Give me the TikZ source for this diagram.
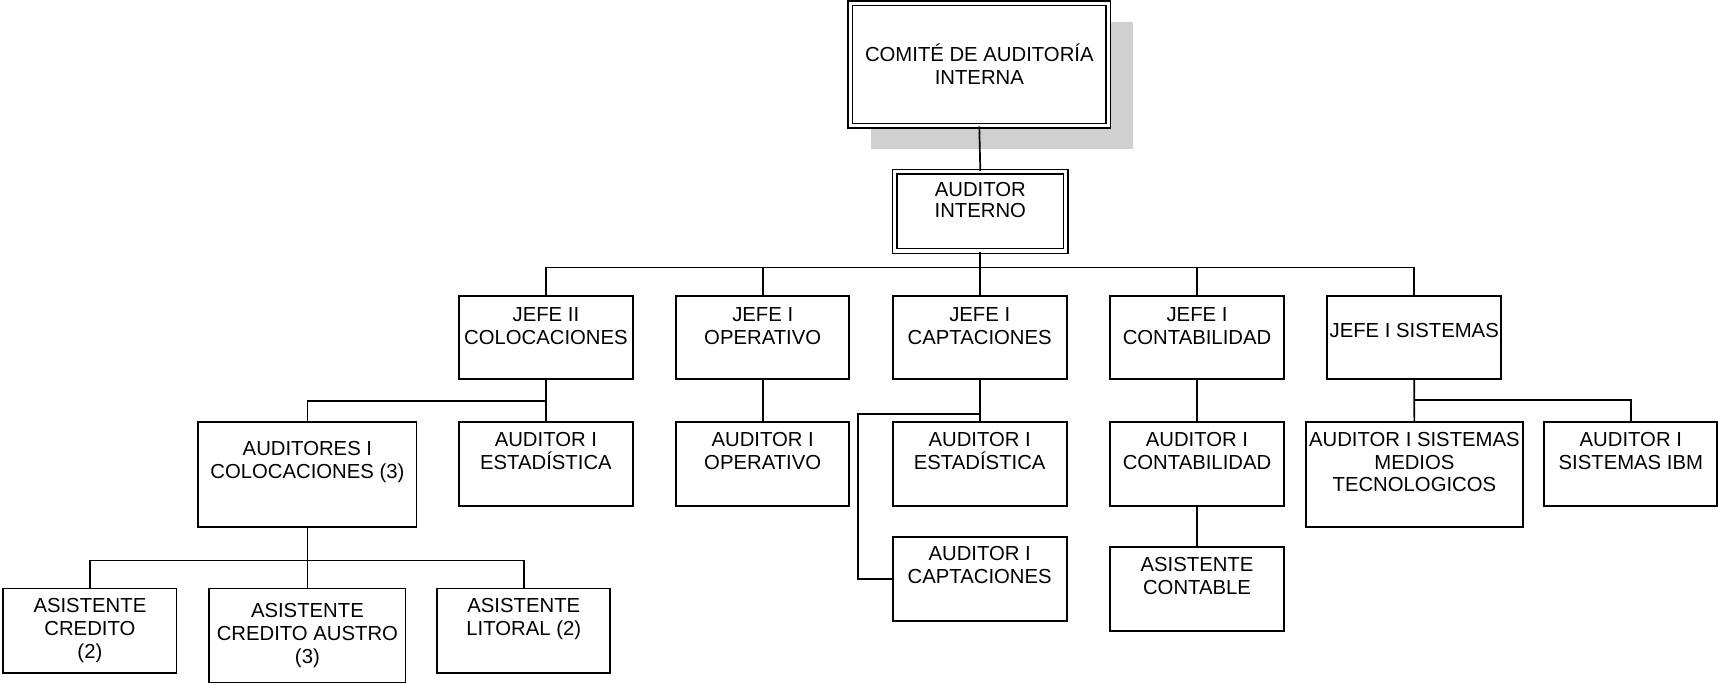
\documentclass[tikz,border=0pt]{standalone}
\usepackage{fontspec}
\setmainfont{Liberation Sans}
\usetikzlibrary{fit}
\definecolor{shadowgray}{RGB}{208,208,208}
\tikzset{
  box/.style={draw, line width=0.85pt, fill=white, inner sep=0pt},
  dbox/.style={draw, line width=0.7pt, double, double distance=1.6pt, fill=white, inner sep=0pt},
  lbl/.style={anchor=north, inner sep=0pt, align=center, yshift=4.2pt,
    font=\fontsize{10.15}{11.5}\selectfont, execute at begin node={\rule{0pt}{10pt}}},
  link/.style={line width=0.85pt},
}
\begin{document}
\begin{tikzpicture}[x=0.5pt, y=-0.5pt]
\useasboundingbox (0,0) rectangle (1718,684);

% shadow behind the committee box
\fill[shadowgray] (870.7,21.7) rectangle (1133.3,149.3);

% top of the hierarchy
\node[dbox, fit={(850.2,3.4) (1108.4,125.8)}] (com) {};
\node[dbox, fit={(894.8,171.7) (1065.8,251)}] (aud) {};

% heads of area
\node[box, fit={(459,295.7) (632.7,379.3)}] (j1) {};
\node[box, fit={(676,295.7) (849.3,379.3)}] (j2) {};
\node[box, fit={(892.7,295.7) (1066.7,379.3)}] (j3) {};
\node[box, fit={(1110,295.7) (1284,379.3)}] (j4) {};
\node[box, fit={(1327.3,295.7) (1501,379.3)}] (j5) {};

% auditors
\node[box, fit={(198.3,421.7) (416.4,527)}] (aic) {};
\node[box, fit={(459,421.7) (632.7,505.7)}] (aec) {};
\node[box, fit={(676,421.7) (849.3,505.7)}] (ao) {};
\node[box, fit={(892.7,421.7) (1066.7,505.7)}] (ae2) {};
\node[box, fit={(1110,421.7) (1284,505.7)}] (acb) {};
\node[box, fit={(1306,421.7) (1522.7,526.7)}] (am) {};
\node[box, fit={(1544.3,421.7) (1717.3,505.7)}] (ai) {};
\node[box, fit={(892.7,536.7) (1066.7,620.7)}] (ac) {};
\node[box, fit={(1110,547.3) (1284,631)}] (asc) {};

% assistants
\node[box, fit={(3.3,588.4) (176.4,672.8)}] (acr) {};
\node[box, fit={(209.3,588.4) (405.4,682.6)}] (aus) {};
\node[box, fit={(437.2,588.4) (610.3,672.8)}] (ali) {};

% labels
\node[lbl] (com-t) at (979.3,52) {COMITÉ DE AUDITORÍA\\INTERNA};
\node[lbl, font=\fontsize{10.15}{10.5}\selectfont] (aud-t) at (980.3,190) {AUDITOR\\INTERNO};
\node[lbl] (j1-t) at (545.9,315.8) {JEFE II\\COLOCACIONES};
\node[lbl] (j2-t) at (762.7,315.8) {JEFE I\\OPERATIVO};
\node[lbl] (j3-t) at (979.7,315.8) {JEFE I\\CAPTACIONES};
\node[lbl] (j4-t) at (1197,315.8) {JEFE I\\CONTABILIDAD};
\node[lbl] (j5-t) at (1414.2,325.8) {JEFE I SISTEMAS};
\node[lbl] (aic-t) at (307.4,449) {AUDITORES I\\COLOCACIONES (3)};
\node[lbl] (aec-t) at (545.9,440.5) {AUDITOR I\\ESTADÍSTICA};
\node[lbl] (ao-t) at (762.7,440.5) {AUDITOR I\\OPERATIVO};
\node[lbl] (ae2-t) at (979.7,440.5) {AUDITOR I\\ESTADÍSTICA};
\node[lbl] (acb-t) at (1197,440.5) {AUDITOR I\\CONTABILIDAD};
\node[lbl, font=\fontsize{10.15}{11.2}\selectfont] (am-t) at (1414.4,440.5) {AUDITOR I SISTEMAS\\MEDIOS\\TECNOLOGICOS};
\node[lbl] (ai-t) at (1630.8,440.5) {AUDITOR I\\SISTEMAS IBM};
\node[lbl] (ac-t) at (979.7,554.7) {AUDITOR I\\CAPTACIONES};
\node[lbl] (asc-t) at (1197,565.3) {ASISTENTE\\CONTABLE};
\node[lbl] (acr-t) at (89.9,606.7) {ASISTENTE\\CREDITO\\(2)};
\node[lbl] (aus-t) at (307.4,611.7) {ASISTENTE\\CREDITO AUSTRO\\(3)};
\node[lbl] (ali-t) at (523.8,606.7) {ASISTENTE\\LITORAL (2)};

% junction points of the connectors
\coordinate (bus) at (0,267.5);
\coordinate (cb) at (545.9,400.7);
\coordinate (k) at (858.3,414);
\coordinate (sb) at (1414.2,400);
\coordinate (ab) at (307.4,560.5);

% connectors
\draw[link] (com.south) -- (aud.north);
\draw[link] (aud.south) -- (aud.south |- bus);
\draw[link] (j1.north) -- (j1.north |- bus) -- (j5.north |- bus) -- (j5.north);
\draw[link] (j2.north) -- (j2.north |- bus);
\draw[link] (j3.north) -- (j3.north |- bus);
\draw[link] (j4.north) -- (j4.north |- bus);

\draw[link] (j1.south) -- (aec.north);
\draw[link] (aic.north) |- (cb);
\draw[link] (j2.south) -- (ao.north);
\draw[link] (j3.south) -- (ae2.north);
\draw[link] (j3.south |- k) -- (k) |- (ac.west);
\draw[link] (j4.south) -- (acb.north);
\draw[link] (acb.south) -- (asc.north);
\draw[link] (j5.south) -- (am.north);
\draw[link] (ai.north) |- (sb);

\draw[link] (aic.south) -- (aus.north);
\draw[link] (acr.north) |- (ab) -| (ali.north);
\end{tikzpicture}
\end{document}
